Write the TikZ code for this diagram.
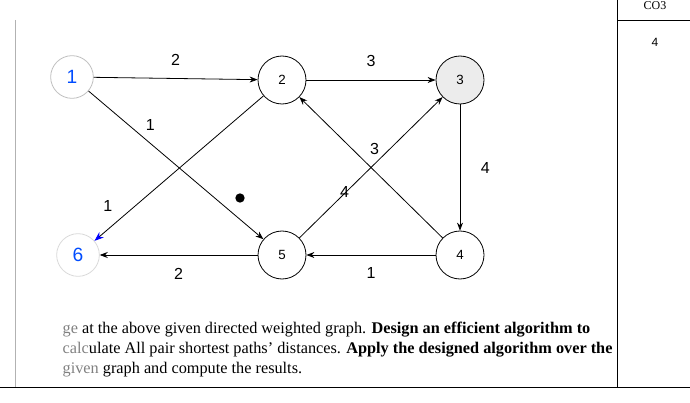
\documentclass[tikz,border=0pt]{standalone}
\usepackage{fontspec}
\setmainfont{Liberation Serif}
\newfontfamily\sansf{Liberation Sans}
\usetikzlibrary{arrows.meta}
\begin{document}
\begin{tikzpicture}[x=0.75pt,y=-0.75pt,
  vtx/.style={circle,draw,line width=0.6pt,minimum size=36pt,inner sep=0pt,font=\sansf\normalsize},
  edge/.style={-{Stealth[length=6pt]},line width=0.6pt},
  wt/.style={font=\sansf\large},
  hand/.style={text=blue!70!cyan,font=\sansf\Large}]
\useasboundingbox (0,0) rectangle (690,403);
\draw[line width=0.7pt] (617,0) -- (617,387);
\draw[line width=0.7pt] (617,20) -- (690,20);
\draw[line width=0.7pt] (0,387) -- (690,387);
\draw[gray!60] (15,20) -- (15,387);
\node[font=\small] (co) at (655,6) {CO3};
\node[font=\sansf\small] (m) at (655,42) {4};
\node[vtx,draw=gray!50,minimum size=32pt] (n1) at (72,77) {};
\node[hand] at (n1) {1};
\node[vtx] (n2) at (282,80) {2};
\node[vtx,fill=gray!15] (n3) at (460,80) {3};
\node[vtx] (n4) at (460,255) {4};
\node[vtx] (n5) at (282,255) {5};
\node[vtx,draw=gray!30,minimum size=32pt] (n6) at (78,255) {};
\node[hand] at (n6) {6};
\draw[edge] (n1) -- node[wt,above=6pt]{2} (n2);
\draw[edge] (n2) -- node[wt,above=6pt]{3} (n3);
\draw[edge] (n3) -- node[wt,right=12pt]{4} (n4);
\draw[edge] (n4) -- node[wt,below=6pt]{1} (n5);
\draw[edge] (n5) -- node[wt,below=6pt]{2} (n6);
\draw[edge] (n1) -- node[wt,pos=0.3,above right=0pt]{1} (n5);
\draw[edge,-{Stealth[length=7pt,color=blue]}] (n2) -- node[wt,pos=0.85,above left=2pt]{1} (n6);
\draw[edge] (n4) -- node[wt,pos=0.55,above right=1pt]{3} (n2);
\draw[edge] (n5) -- node[wt,pos=0.25,above right=0pt]{4} (n3);
\fill (240,198) circle (3.5pt);
\node[anchor=west,align=left,font=\fontsize{12.2}{15}\selectfont] (txt) at (58,350) {%
\textcolor{gray}{ge} at the above given directed weighted graph. \textbf{Design an efficient algorithm to}\\
\textcolor{gray}{calc}ulate All pair shortest paths' distances. \textbf{Apply the designed algorithm over the}\\
\textcolor{gray}{given} graph and compute the results.};
\end{tikzpicture}
\end{document}
